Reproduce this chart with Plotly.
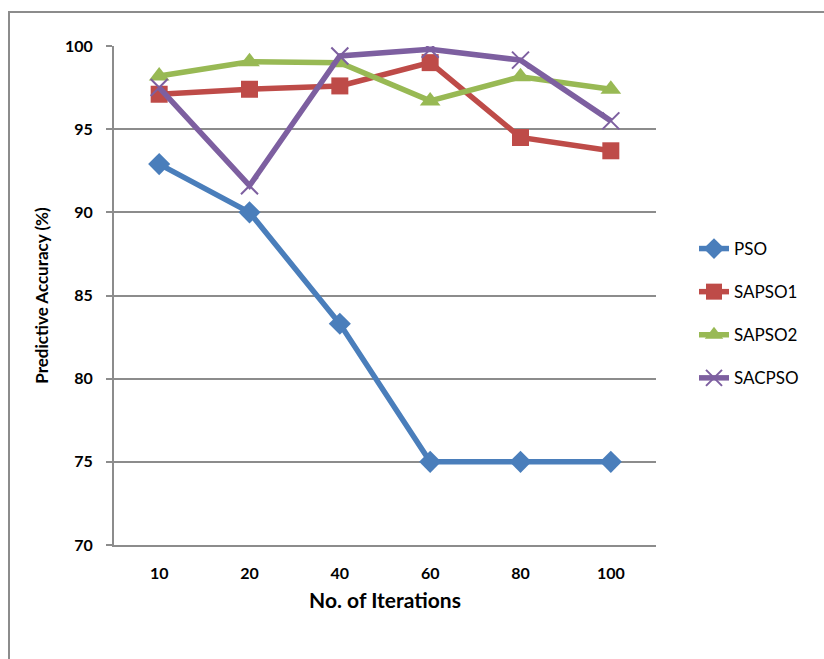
import plotly.graph_objects as go

iterations = ["10", "20", "40", "60", "80", "100"]
pso = [92.9, 90.0, 83.3, 75.0, 75.0, 75.0]
sapso1 = [97.1, 97.4, 97.6, 99.0, 94.5, 93.7]
sapso2 = [98.2, 99.05, 99.0, 96.7, 98.15, 97.4]
sacpso = [97.5, 91.6, 99.4, 99.8, 99.15, 95.5]

W, H = 824, 659
L, R, T, B = 114, 656, 46, 545

fig = go.Figure()
fig.add_trace(go.Scatter(x=iterations, y=pso, name="PSO", mode="lines+markers",
                         line=dict(color="#4A7EBB", width=5.5),
                         marker=dict(symbol="diamond", size=17, color="#4A7EBB"),
                         legendgroup="a"))
fig.add_trace(go.Scatter(x=iterations, y=sapso1, name="SAPSO1", mode="lines+markers",
                         line=dict(color="#BE4B48", width=5.5),
                         marker=dict(symbol="square", size=17, color="#BE4B48"),
                         legendgroup="b"))
fig.add_trace(go.Scatter(x=iterations, y=sapso2, name="SAPSO2", mode="lines+markers",
                         line=dict(color="#98B954", width=5.5),
                         marker=dict(symbol="triangle-up", size=18, color="#98B954"),
                         legendgroup="c"))
fig.add_trace(go.Scatter(x=iterations, y=sacpso, name="SACPSO", mode="lines+markers",
                         line=dict(color="#7D5FA0", width=5.5),
                         marker=dict(symbol="x-thin", size=17, color="#7D5FA0",
                                     line=dict(color="#7D5FA0", width=2)),
                         legendgroup="d"))

pw, ph = R - L, B - T
fig.add_shape(type="rect", xref="paper", yref="paper",
              x0=(9 - L) / pw, x1=(900 - L) / pw,
              y0=(B - 720) / ph, y1=(B - 12) / ph,
              line=dict(color="#8c8c8c", width=2), fillcolor="rgba(0,0,0,0)", layer="below")

grey = "#8c8c8c"
fig.update_layout(
    width=W, height=H,
    margin=dict(l=L, r=W - R, t=T, b=H - B, pad=0),
    paper_bgcolor="white", plot_bgcolor="white",
    font=dict(family="Lato, Open Sans, sans-serif", color="black"),
    showlegend=True,
    legend=dict(x=(694 - L) / pw, y=(B - 231) / ph, xanchor="left", yanchor="top",
                font=dict(size=17, family="Lato, sans-serif"),
                tracegroupgap=18, traceorder="grouped", bgcolor="rgba(0,0,0,0)"),
    xaxis=dict(type="category", showgrid=False, showline=True, linecolor=grey, linewidth=2,
               ticks="", tickfont=dict(size=16, family="Lato, sans-serif", weight="bold"),
               ticklabelstandoff=13, range=[-0.5, 5.5],
               title=dict(text="No. of Iterations", font=dict(size=21, weight="bold"), standoff=12)),
    yaxis=dict(range=[70, 100], dtick=5, showgrid=True, gridcolor=grey, gridwidth=2,
               showline=True, linecolor=grey, linewidth=2, ticks="outside", ticklen=6,
               tickcolor=grey, tickwidth=2, zeroline=False,
               tickfont=dict(size=16, family="Lato, sans-serif", weight="bold"),
               ticklabelstandoff=10,
               title=dict(text="Predictive Accuracy (%)", font=dict(size=17, weight="bold"), standoff=12)),
)

fig.write_html("out.html")
